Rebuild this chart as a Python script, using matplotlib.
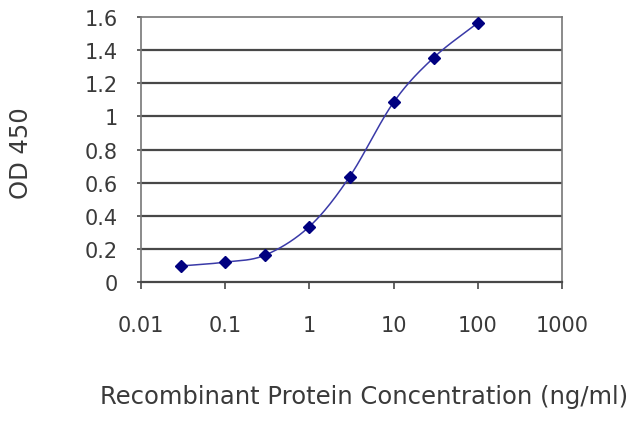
import numpy as np
import matplotlib
matplotlib.use('Agg')
import matplotlib.pyplot as plt

conc = [0.03, 0.1, 0.3, 1, 3, 10, 30, 100]
od = [0.097, 0.12, 0.163, 0.335, 0.635, 1.085, 1.355, 1.565]
xticks = [0.01, 0.1, 1, 10, 100, 1000]
xticklabels = ['0.01', '0.1', '1', '10', '100', '1000']
yticks = [0, 0.2, 0.4, 0.6, 0.8, 1, 1.2, 1.4, 1.6]
yticklabels = ['0', '0.2', '0.4', '0.6', '0.8', '1', '1.2', '1.4', '1.6']

plt.rcParams['font.family'] = ['DejaVu Sans']


def smooth(xs, ys, n=30):
    # catmull-rom through the points, done in log x, only for drawing the line
    lx = np.log10(xs)
    ys = np.asarray(ys, dtype=float)
    px = np.concatenate([[2*lx[0]-lx[1]], lx, [2*lx[-1]-lx[-2]]])
    py = np.concatenate([[2*ys[0]-ys[1]], ys, [2*ys[-1]-ys[-2]]])
    outx, outy = [], []
    for i in range(1, len(px)-2):
        t = np.linspace(0, 1, n)
        for p, out in ((px, outx), (py, outy)):
            p0, p1, p2, p3 = p[i-1], p[i], p[i+1], p[i+2]
            out.extend(0.5*(2*p1 + (-p0+p2)*t + (2*p0-5*p1+4*p2-p3)*t**2
                            + (-p0+3*p1-3*p2+p3)*t**3))
    return 10**np.array(outx), np.array(outy)


fig = plt.figure(figsize=(6.4, 4.27), dpi=100)
ax = fig.add_axes([0.2203, 0.3372, 0.6578, 0.6206])

ax.set_xscale('log')
ax.set_xlim(0.01, 1000)
ax.set_ylim(0, 1.6)

for y in yticks[1:-1]:
    ax.axhline(y, color='#484848', lw=1.6, zorder=1)

sx, sy = smooth(conc, od)
ax.plot(sx, sy, color='#3a3aa8', lw=1.1, zorder=2)
ax.plot(conc, od, ls='none', marker='D', ms=6.5, color='#000080', zorder=3)

ax.set_xticks(xticks)
ax.set_xticklabels(xticklabels)
ax.xaxis.set_minor_locator(matplotlib.ticker.NullLocator())
ax.set_yticks(yticks)
ax.set_yticklabels(yticklabels)

for s in ax.spines.values():
    s.set_color('#777777')
    s.set_linewidth(1.2)
ax.spines['bottom'].set_color('#484848')
ax.spines['bottom'].set_linewidth(1.6)

ax.tick_params(axis='x', length=5, width=1.2, color='#484848', labelsize=15,
               labelcolor='#3a3a3a', pad=19)
ax.tick_params(axis='y', length=3, width=1.2, color='#484848', labelsize=15,
               labelcolor='#3a3a3a', pad=13.5)

ax.set_ylabel('OD 450', fontsize=17.5, color='#3a3a3a', va='center')
ax.yaxis.set_label_coords(-0.285, 0.49)
ax.set_xlabel('Recombinant Protein Concentration (ng/ml)', fontsize=17.5,
              color='#3a3a3a', va='center')
ax.xaxis.set_label_coords(0.53, -0.43)

fig.savefig('out.png', dpi=100)
